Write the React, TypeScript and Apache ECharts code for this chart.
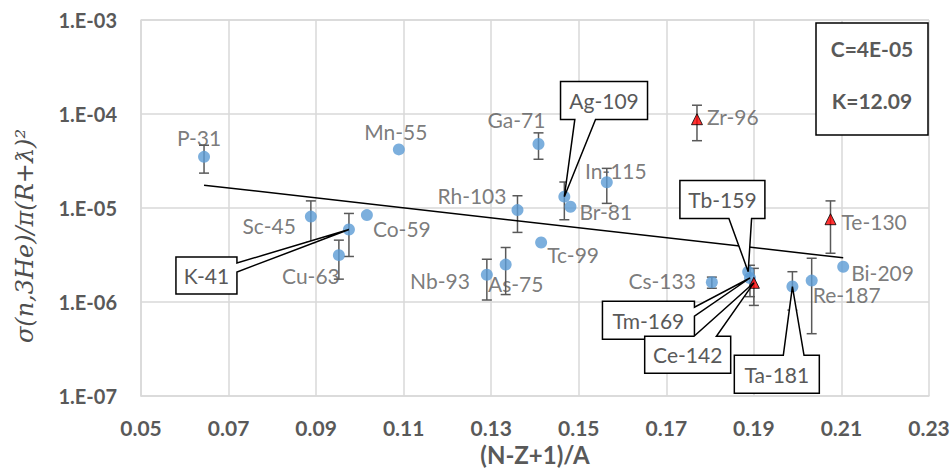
import React, { useEffect, useRef } from "react";
import * as echarts from "echarts";

// ---- data ----
const circleNames = ["P-31", "Sc-45", "Cu-63", "K-41", "Co-59", "Mn-55", "Nb-93", "As-75", "Rh-103", "Ga-71", "Tc-99", "Ag-109", "Br-81", "In-115", "Cs-133", "Tb-159", "Tm-169", "Ta-181", "Re-187", "Bi-209"];
const circleX = [0.0644, 0.0888, 0.0952, 0.0975, 0.1016, 0.1089, 0.129, 0.1333, 0.136, 0.1408, 0.1414, 0.1467, 0.1481, 0.1564, 0.1804, 0.1887, 0.1891, 0.1988, 0.2032, 0.2104];
const circleY = [3.5e-5, 8.1e-6, 3.15e-6, 5.9e-6, 8.4e-6, 4.2e-5, 1.95e-6, 2.5e-6, 9.5e-6, 4.8e-5, 4.3e-6, 1.32e-5, 1.03e-5, 1.88e-5, 1.62e-6, 2.1e-6, 1.8e-6, 1.46e-6, 1.69e-6, 2.37e-6];
const circleErr = [1.15e-5, 3.8e-6, 1.4e-6, 2.85e-6, null, null, 0.9e-6, 1.3e-6, 4e-6, 1.5e-5, null, 5.7e-6, null, 7.6e-6, 0.22e-6, null, 0.66e-6, 0.64e-6, 1.23e-6, null];

const triNames = ["Zr-96", "Ce-142", "Te-130"];
const triX = [0.177, 0.19, 0.2075];
const triY = [8.8e-5, 1.6e-6, 7.6e-6];
const triErr = [3.6e-5, 0.68e-6, 4.3e-6];

const trendX = [0.0644, 0.2104];
const trendY = [1.75e-5, 2.95e-6];

const xTicks = [0.05, 0.07, 0.09, 0.11, 0.13, 0.15, 0.17, 0.19, 0.21, 0.23];
const yMin = 1e-7;
const yMax = 1e-3;

const fitLines = ["C=4E-05", "K=12.09"];
const xTitle = "(N-Z+1)/A";
const yTitle = "σ(n,3He)/π(R+ƛ)²";

// ---- layout (positions of labels, not data) ----
const labelLayout: Record<string, [string, number, number]> = {
  "P-31": ["center", -5, -19],
  "Sc-45": ["right", -15, 9],
  "Cu-63": ["center", -28, 20],
  "Co-59": ["left", 6, 13],
  "Mn-55": ["center", -3, -18],
  "Nb-93": ["right", -17, 6],
  "As-75": ["center", 10, 19],
  "Rh-103": ["right", -11, -15],
  "Ga-71": ["center", -22, -24],
  "Tc-99": ["left", 6, 12],
  "Br-81": ["left", 9, 5],
  "In-115": ["center", 9, -12],
  "Cs-133": ["right", -16, -2],
  "Re-187": ["left", 1, 14],
  "Bi-209": ["left", 8, 6],
  "Zr-96": ["left", 10, -3],
  "Te-130": ["left", 11, 2],
};

type Callout = { name: string; dx: number; dy: number; w: number; h: number; edge: string; b0: number; b1: number };
const callouts: Callout[] = [
  { name: "K-41", dx: -142.5, dy: 46, w: 61, h: 37, edge: "right", b0: 6, b1: 15 },
  { name: "Ag-109", dx: 39.7, dy: -96.2, w: 87, h: 38, edge: "bottom", b0: 14.3, b1: 35 },
  { name: "Tb-159", dx: -25.8, dy: -72.2, w: 85, h: 38, edge: "bottom", b0: 49, b1: 71.7 },
  { name: "Tm-169", dx: -101.5, dy: 42.2, w: 92, h: 38, edge: "right", b0: 6, b1: 15 },
  { name: "Ce-142", dx: -66.2, dy: 72, w: 86, h: 37, edge: "top", b0: 49.3, b1: 71.7 },
  { name: "Ta-181", dx: -15.6, dy: 87.8, w: 85, h: 38, edge: "top", b0: 49, b1: 69.7 },
];

const GRAY = "#595959";
const FONT = "Lato, 'Open Sans', sans-serif";

function labelFor(name: string) {
  const l = labelLayout[name];
  if (!l) return { show: false };
  return {
    show: true,
    position: "inside",
    formatter: "{b}",
    align: l[0],
    verticalAlign: "middle",
    offset: [l[1], l[2]],
    color: GRAY,
    fontSize: 21,
    fontFamily: FONT,
  };
}

export default function App() {
  const ref = useRef<HTMLDivElement>(null);
  useEffect(() => {
    if (!ref.current) return;
    const chart = echarts.init(ref.current, null, { renderer: "svg" });

    const errData: number[][] = [];
    circleX.forEach((x, i) => {
      if (circleErr[i] != null) errData.push([x, circleY[i], circleErr[i] as number]);
    });
    triX.forEach((x, i) => {
      if (triErr[i] != null) errData.push([x, triY[i], triErr[i]]);
    });

    const option: any = {
      animation: false,
      backgroundColor: "#ffffff",
      grid: { left: 141, right: 23, top: 20, bottom: 74, containLabel: false, outerBoundsMode: "none" },
      xAxis: {
        type: "value",
        min: 0.05,
        max: 0.23,
        name: xTitle,
        nameLocation: "middle",
        nameGap: 45,
        nameTextStyle: { color: GRAY, fontSize: 24, fontWeight: "bold", fontFamily: FONT },
        axisLine: { show: true, lineStyle: { color: "#d9d9d9", width: 1.5 } },
        axisTick: { show: false, customValues: xTicks },
        axisLabel: {
          customValues: xTicks,
          formatter: (v: number) => v.toFixed(2),
          color: GRAY,
          fontSize: 21,
          fontWeight: "bold",
          fontFamily: FONT,
          margin: 21,
        },
        splitLine: { show: true, lineStyle: { color: "#d9d9d9", width: 1.5 } },
      },
      yAxis: {
        type: "log",
        logBase: 10,
        min: yMin,
        max: yMax,
        axisLine: { show: true, lineStyle: { color: "#d9d9d9", width: 1.5 } },
        axisTick: { show: false },
        axisLabel: {
          formatter: (v: number) => {
            const e = Math.round(Math.log10(v));
            return "1.E" + (e < 0 ? "-" : "+") + String(Math.abs(e)).padStart(2, "0");
          },
          color: GRAY,
          fontSize: 20,
          fontWeight: "bold",
          fontFamily: FONT,
          margin: 24,
        },
        splitLine: { show: true, lineStyle: { color: "#d9d9d9", width: 1.5 } },
      },
      series: [
        {
          type: "custom",
          name: "err",
          z: 1,
          encode: { x: 0, y: 1 },
          data: errData,
          renderItem: (params: any, api: any) => {
            const x = api.value(0);
            const y = api.value(1);
            const e = api.value(2);
            const t = api.coord([x, y + e]);
            const b = api.coord([x, y - e]);
            const st = { stroke: GRAY, lineWidth: 1.5 };
            return {
              type: "group",
              children: [
                { type: "line", shape: { x1: t[0], y1: t[1], x2: b[0], y2: b[1] }, style: st },
                { type: "line", shape: { x1: t[0] - 5, y1: t[1], x2: t[0] + 5, y2: t[1] }, style: st },
                { type: "line", shape: { x1: b[0] - 5, y1: b[1], x2: b[0] + 5, y2: b[1] }, style: st },
              ],
            };
          },
        },
        {
          type: "line",
          name: "trend",
          z: 2,
          data: trendX.map((x, i) => [x, trendY[i]]),
          symbol: "none",
          lineStyle: { color: "#000000", width: 1.5 },
        },
        {
          type: "scatter",
          name: "circles",
          z: 3,
          symbol: "circle",
          symbolSize: 12,
          itemStyle: { color: "#5b9bd5" },
          data: circleNames.map((n, i) => ({ name: n, value: [circleX[i], circleY[i]], label: labelFor(n) })),
        },
        {
          type: "scatter",
          name: "triangles",
          z: 3,
          symbol: "triangle",
          symbolSize: 11,
          itemStyle: { color: "#ff0000", borderColor: "#000000", borderWidth: 1 },
          data: triNames.map((n, i) => ({ name: n, value: [triX[i], triY[i]], label: labelFor(n) })),
        },
      ],
    };
    chart.setOption(option);

    const gfx: any[] = [];
    callouts.forEach((c) => {
      let si = 2;
      let idx = circleNames.indexOf(c.name);
      let val: number[];
      if (idx >= 0) {
        val = [circleX[idx], circleY[idx]];
      } else {
        si = 3;
        idx = triNames.indexOf(c.name);
        val = [triX[idx], triY[idx]];
      }
      const p = chart.convertToPixel({ seriesIndex: si }, val) as number[];
      const cx = p[0] + c.dx;
      const cy = p[1] + c.dy;
      const L = cx - c.w / 2, R = cx + c.w / 2, T = cy - c.h / 2, B = cy + c.h / 2;
      const tip = [p[0], p[1]];
      let pts: number[][];
      if (c.edge === "right") {
        pts = [[L, T], [R, T], [R, T + c.b0], tip, [R, T + c.b1], [R, B], [L, B]];
      } else if (c.edge === "bottom") {
        pts = [[L, T], [R, T], [R, B], [L + c.b1, B], tip, [L + c.b0, B], [L, B]];
      } else {
        pts = [[L, T], [L + c.b0, T], tip, [L + c.b1, T], [R, T], [R, B], [L, B]];
      }
      gfx.push({
        type: "polygon",
        z: 100,
        shape: { points: pts },
        style: { fill: "#ffffff", stroke: "#000000", lineWidth: 1.5 },
      });
      gfx.push({
        type: "text",
        z: 101,
        x: cx,
        y: cy,
        style: { text: c.name, fill: GRAY, font: `21px ${FONT}`, textAlign: "center", textVerticalAlign: "middle" },
      });
    });

    const tr = chart.convertToPixel({ gridIndex: 0 }, [0.23, yMax]) as number[];
    const bw = 112, bh = 112;
    const bx = tr[0] - bw - 1, by = tr[1] + 3;
    gfx.push({
      type: "rect",
      z: 100,
      shape: { x: bx, y: by, width: bw, height: bh },
      style: { fill: "#ffffff", stroke: "#000000", lineWidth: 1.5 },
    });
    fitLines.forEach((t, i) => {
      gfx.push({
        type: "text",
        z: 101,
        x: bx + bw / 2,
        y: by + 25 + i * 52,
        style: { text: t, fill: GRAY, font: `bold 21px ${FONT}`, textAlign: "center", textVerticalAlign: "middle" },
      });
    });

    gfx.push({
      type: "text",
      z: 101,
      x: 25,
      y: 236,
      rotation: Math.PI / 2,
      style: { text: yTitle, fill: "#4d4d4d", font: `italic 24px 'DejaVu Serif', serif`, textAlign: "center", textVerticalAlign: "middle" },
    });

    chart.setOption({ graphic: gfx });

    return () => chart.dispose();
  }, []);

  return (
    <div
      ref={ref}
      style={{ position: "fixed", left: 0, top: 0, width: 952, height: 470, background: "#fff" }}
    />
  );
}
